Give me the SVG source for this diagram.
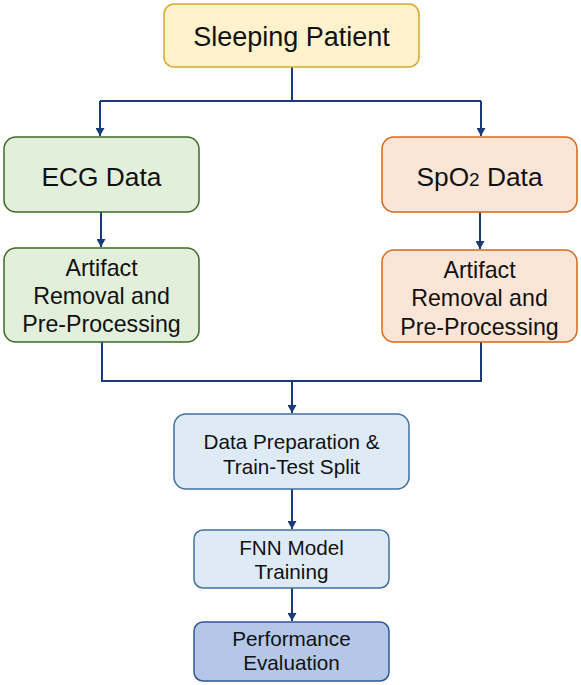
<svg xmlns="http://www.w3.org/2000/svg" width="581" height="685" viewBox="0 0 581 685">
<style>
text{font-family:"Liberation Sans",Arial,sans-serif;fill:#111;text-anchor:middle}
.c{fill:none;stroke:#1b3a78;stroke-width:2}
.y{fill:#fff2cc;stroke:#d4a92e;stroke-width:1.5}
.g{fill:#e2efda;stroke:#3e6b23;stroke-width:1.5}
.o{fill:#fbe5d6;stroke:#d2691e;stroke-width:1.5}
.b{fill:#deebf7;stroke:#41719c;stroke-width:1.5}
.d{fill:#b4c7e7;stroke:#2f5597;stroke-width:1.5}
.f27{font-size:27px}.f26{font-size:26.3px}.f23{font-size:23.2px}.f21{font-size:20.7px}
</style>
<defs>
<marker id="ah" markerWidth="8" markerHeight="9" refX="8" refY="4.5" orient="auto" markerUnits="userSpaceOnUse">
<path d="M0,0 L8,4.5 L0,9 Z" fill="#1b3a78"/>
</marker>
</defs>
<g id="connectors">
<path class="c" d="M292,67 V101 M100,101 H481"/>
<path class="c" d="M100,101 V136" marker-end="url(#ah)"/>
<path class="c" d="M481,101 V136" marker-end="url(#ah)"/>
<path class="c" d="M101,212 V247" marker-end="url(#ah)"/>
<path class="c" d="M480,212 V249" marker-end="url(#ah)"/>
<path class="c" d="M102,342 V381 H481 V342"/>
<path class="c" d="M292,381 V413" marker-end="url(#ah)"/>
<path class="c" d="M292,489 V529" marker-end="url(#ah)"/>
<path class="c" d="M292,588 V621" marker-end="url(#ah)"/>
</g>
<g id="sleeping">
<rect class="y" x="164" y="4" width="255" height="63" rx="10"/>
<text class="f27" x="291.5" y="46">Sleeping Patient</text>
</g>
<g id="ecg">
<rect class="g" x="4" y="137" width="195" height="75" rx="12"/>
<text class="f26" x="101.5" y="186">ECG Data</text>
</g>
<g id="spo2">
<rect class="o" x="382" y="137" width="195" height="75" rx="12"/>
<text class="f26" x="479.5" y="186">SpO<tspan font-size="19">2</tspan> Data</text>
</g>
<g id="ecg-artifact">
<rect class="g" x="4" y="248" width="195" height="94" rx="12"/>
<text class="f23" x="101.5" y="276">Artifact</text>
<text class="f23" x="101.5" y="304">Removal and</text>
<text class="f23" x="101.5" y="332">Pre-Processing</text>
</g>
<g id="spo2-artifact">
<rect class="o" x="382" y="250" width="195" height="92" rx="12"/>
<text class="f23" x="479.5" y="278">Artifact</text>
<text class="f23" x="479.5" y="306">Removal and</text>
<text class="f23" x="479.5" y="335">Pre-Processing</text>
</g>
<g id="dataprep">
<rect class="b" x="174" y="414" width="235" height="75" rx="12"/>
<text class="f21" x="291.5" y="449">Data Preparation &amp;</text>
<text class="f21" x="291.5" y="474">Train-Test Split</text>
</g>
<g id="fnn">
<rect class="b" x="194" y="530" width="195" height="58" rx="9"/>
<text class="f21" x="291.5" y="555">FNN Model</text>
<text class="f21" x="291.5" y="579">Training</text>
</g>
<g id="performance">
<rect class="d" x="194" y="622" width="195" height="59" rx="9"/>
<text class="f21" x="291.5" y="646">Performance</text>
<text class="f21" x="291.5" y="670">Evaluation</text>
</g>
</svg>
